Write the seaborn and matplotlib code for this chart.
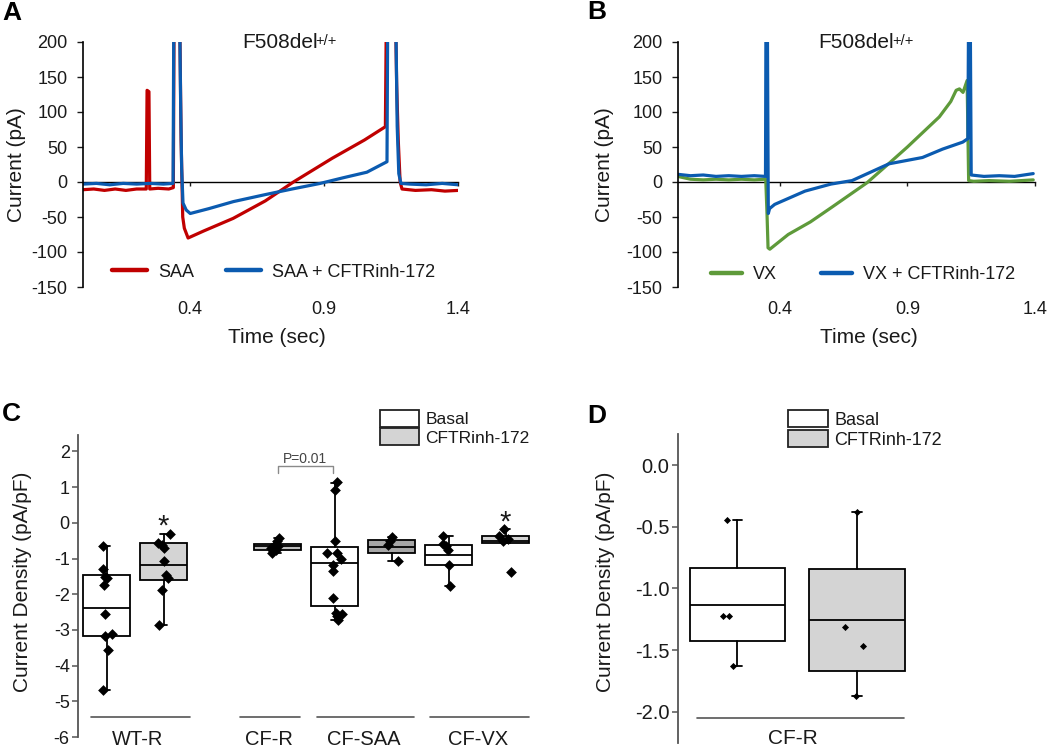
import matplotlib
matplotlib.use("Agg")
import matplotlib.pyplot as plt
import seaborn as sns
from matplotlib.lines import Line2D
from matplotlib.patches import Patch

# ---------------- DATA ----------------
# Panel A (F508del+/+, SAA)
saa_t = [0.00, 0.04, 0.08, 0.12, 0.16, 0.20, 0.236, 0.239, 0.246, 0.249, 0.28, 0.32, 0.337,
         0.340, 0.360, 0.366, 0.372, 0.378, 0.392, 0.45, 0.56, 0.68, 0.785, 0.93, 1.05, 1.128,
         1.132, 1.165, 1.170, 1.176, 1.183, 1.19, 1.24, 1.30, 1.35, 1.40]
saa_i = [-11, -10, -12, -10, -12, -10, -10, 131, 129, -10, -9, -10, -8,
         260, 260, 60, -50, -66, -80, -70, -52, -27, 0, 34, 60, 79,
         260, 260, 140, 60, 0, -10, -12, -11, -13, -12]
saa_inh_t = [0.00, 0.05, 0.10, 0.15, 0.20, 0.25, 0.30, 0.336, 0.339, 0.360, 0.364, 0.368, 0.373,
             0.385, 0.40, 0.47, 0.561, 0.68, 0.78, 0.885, 0.97, 1.059, 1.134, 1.137, 1.166,
             1.172, 1.178, 1.186, 1.22, 1.28, 1.34, 1.40]
saa_inh_i = [-3, -2, -4, -2, -3, -2, -3, -2, 260, 260, 120, 20, -30,
             -40, -45, -38, -28, -18, -10, -2, 6, 14, 29, 260, 260,
             80, 12, -2, -3, -4, -2, -4]

# Panel B (F508del+/+, VX)
vx_t = [0.00, 0.05, 0.10, 0.15, 0.20, 0.25, 0.30, 0.345, 0.350, 0.354, 0.361, 0.433, 0.52, 0.604,
        0.742, 0.82, 0.90, 1.025, 1.07, 1.091, 1.104, 1.118, 1.134, 1.140, 1.16, 1.22, 1.30, 1.393]
vx_i = [8, 4, 3, 4, 3, 4, 3, 4, -46, -94, -96, -75, -57, -36,
        -1, 24, 50, 93, 115, 131, 133, 128, 145, 2, 1, 2, 1, 3]
vx_inh_t = [0.00, 0.05, 0.10, 0.15, 0.20, 0.25, 0.30, 0.344, 0.346, 0.351, 0.355, 0.36, 0.38, 0.499,
            0.60, 0.683, 0.828, 0.959, 1.038, 1.117, 1.137, 1.140, 1.146, 1.150, 1.20, 1.26, 1.32, 1.393]
vx_inh_i = [11, 9, 10, 8, 9, 8, 9, 8, 260, 260, -45, -38, -32, -13,
            -3, 2, 26, 35, 47, 57, 62, 260, 260, 10, 8, 9, 8, 12]

time_ticks = [0.4, 0.9, 1.4]
time_tick_labels = ["0.4", "0.9", "1.4"]
current_ticks = [-150, -100, -50, 0, 50, 100, 150, 200]

# Panel C (current density, pA/pF)
c_groups = ["WT-R", "CF-R", "CF-SAA", "CF-VX"]
wt_basal = [-0.66, -1.30, -1.51, -1.54, -1.75, -2.55, -3.16, -3.12, -3.57, -4.68]
wt_inh = [-0.30, -0.56, -0.62, -0.70, -1.08, -1.46, -1.55, -1.88, -2.85]
cf_r = [-0.43, -0.52, -0.61, -0.66, -0.70, -0.75, -0.80, -0.84]
saa_basal = [1.13, 0.92, -0.52, -0.85, -0.85, -1.01, -1.18, -1.36, -2.11, -2.53, -2.55, -2.62, -2.72]
saa_inh = [-0.41, -0.52, -0.61, -1.08]
vx_basal = [-0.38, -0.59, -0.66, -0.76, -1.18, -1.77]
vx_inh = [-0.18, -0.38, -0.45, -0.52, -1.37]

# box statistics: (whisker low, Q1, median, Q3, whisker high)
wt_basal_box = (-4.68, -3.17, -2.38, -1.46, -0.66)
wt_inh_box = (-2.86, -1.60, -1.18, -0.57, -0.31)
cf_r_box = (-0.84, -0.76, -0.66, -0.59, -0.43)
saa_basal_box = (-2.72, -2.32, -1.13, -0.68, 1.12)
saa_inh_box = (-1.08, -0.85, -0.68, -0.48, -0.41)
vx_basal_box = (-1.77, -1.17, -0.89, -0.61, -0.38)
vx_inh_box = (-0.57, -0.57, -0.50, -0.38, -0.18)
c_yticks = [-6, -5, -4, -3, -2, -1, 0, 1, 2]

# Panel D (CF-R)
d_group = "CF-R"
d_basal = [-0.446, -1.224, -1.224, -1.63]
d_inh = [-0.378, -1.31, -1.47, -1.87]
d_basal_box = (-1.63, -1.427, -1.135, -0.838, -0.446)
d_inh_box = (-1.87, -1.668, -1.257, -0.846, -0.378)
d_yticks = [0.0, -0.5, -1.0, -1.5, -2.0]

legend_labels = ["Basal", "CFTRinh-172"]

# ---------------- STYLE / LAYOUT ----------------
sns.set_theme(style="ticks")
plt.rcParams['font.family'] = ['Liberation Sans', 'DejaVu Sans']
plt.rcParams['axes.unicode_minus'] = False

RED = "#C00000"
BLUE = "#0B5BB0"
GREEN = "#5E9A3A"
TXT = "#1a1a1a"

W, H = 1052, 747
fig = plt.figure(figsize=(W / 100, H / 100), dpi=100)


def add_ax(l, t, r, b):
    return fig.add_axes([l / W, 1 - b / H, (r - l) / W, (b - t) / H])


def trace_panel(ax, series, colors, labels, title_x, leg_xy, hl, cs, ylab_x, xlab_x):
    for (t, i), c in zip(series, colors):
        sns.lineplot(x=t, y=i, sort=False, estimator=None, color=c, lw=2.3, ax=ax)
    ax.set_xlim(0, 1.4)
    ax.set_ylim(-150, 200)
    ax.set_yticks(current_ticks)
    ax.set_yticklabels([str(v) for v in current_ticks])
    ax.set_xticks(time_ticks)
    ax.set_xticklabels(time_tick_labels)
    for s in ["top", "right"]:
        ax.spines[s].set_visible(False)
    ax.spines["bottom"].set_position(("data", 0))
    ax.spines["bottom"].set_color("black")
    ax.spines["bottom"].set_linewidth(1.0)
    ax.spines["bottom"].set_zorder(0.5)
    ax.spines["left"].set_color("black")
    ax.spines["left"].set_linewidth(1.2)
    ax.tick_params(axis="x", direction="out", length=3, width=1, pad=83,
                   labelsize=13, colors=TXT)
    ax.tick_params(axis="y", direction="out", length=4, width=1, pad=7,
                   labelsize=13, colors=TXT)
    ax.set_ylabel("Current (pA)", fontsize=15, color=TXT, va="center", ha="center")
    ax.yaxis.set_label_coords(ylab_x, 0.5)
    ax.set_xlabel("Time (sec)", fontsize=15, color=TXT, va="center", ha="center")
    ax.xaxis.set_label_coords(xlab_x, -0.208)
    main = ax.text(title_x, 199, "F508del", ha="left", va="center", fontsize=15, color=TXT)
    ax.annotate("+/+", xy=(1, 1), xycoords=main, xytext=(-1.5, -0.5),
                textcoords="offset points", ha="left", va="top", fontsize=10.5, color=TXT)
    handles = [Line2D([0], [0], color=c, lw=3.2) for c in colors]
    ax.legend(handles, labels, ncol=2, frameon=False, loc="center left",
              bbox_to_anchor=leg_xy, borderaxespad=0, borderpad=0,
              handlelength=hl, handletextpad=0.6, columnspacing=cs, fontsize=13,
              labelcolor=TXT)


# Panel A
axA = add_ax(83, 42, 458.3, 287)
trace_panel(axA, [(saa_t, saa_i), (saa_inh_t, saa_inh_i)], [RED, BLUE],
            ["SAA", "SAA + CFTRinh-172"], 0.593, (0.077, 0.061), 1.94, 1.8,
            -0.1785, 0.516)

# Panel B
axB = add_ax(677.7, 42, 1035, 287)
trace_panel(axB, [(vx_t, vx_i), (vx_inh_t, vx_inh_i)], [GREEN, BLUE],
            ["VX", "VX + CFTRinh-172"], 0.552, (0.093, 0.049), 1.72, 2.45,
            -0.206, 0.535)


def box_panel(ax, boxes, positions, fills, width, capw):
    stats = [dict(whislo=b[0], q1=b[1], med=b[2], q3=b[3], whishi=b[4], fliers=[])
             for b in boxes]
    res = ax.bxp(stats, positions=positions, widths=width, patch_artist=True,
                 showfliers=False, manage_ticks=False, capwidths=capw,
                 boxprops=dict(edgecolor="black", linewidth=1.3),
                 medianprops=dict(color="black", linewidth=1.3),
                 whiskerprops=dict(color="black", linewidth=1.3),
                 capprops=dict(color="black", linewidth=1.3))
    for patch, f in zip(res["boxes"], fills):
        patch.set_facecolor(f)
        patch.set_zorder(2)


def points(ax, pos, vals, offs, size):
    sns.scatterplot(x=[pos + o for o in offs], y=vals, marker="D", color="black",
                    s=size, linewidth=0, zorder=4, ax=ax, legend=False)


def axis_style(ax, yticks, fmt, labelsize):
    for s in ["top", "right", "bottom"]:
        ax.spines[s].set_visible(False)
    ax.spines["left"].set_color("#555555")
    ax.spines["left"].set_linewidth(1.3)
    ax.set_yticks(yticks)
    ax.set_yticklabels([fmt.format(v) for v in yticks])
    ax.set_xticks([])
    ax.tick_params(axis="y", direction="out", length=4.5, width=1.1, color="#555555",
                   pad=1.5, labelsize=labelsize, labelcolor=TXT)


# Panel C
axC = add_ax(78, 435, 540, 737)
c_boxes = [wt_basal_box, wt_inh_box, cf_r_box, saa_basal_box, saa_inh_box, vx_basal_box, vx_inh_box]
c_vals = [wt_basal, wt_inh, cf_r, saa_basal, saa_inh, vx_basal, vx_inh]
c_pos = [0, 1, 3, 4, 5, 6, 7]
c_fill = ["white", "#D4D4D4", "#BDBDBD", "white", "#A6A6A6", "white", "#D4D4D4"]
c_offs = [
    [-0.07, -0.06, -0.03, 0.01, -0.04, -0.03, -0.03, 0.09, 0.02, -0.07],
    [0.11, -0.09, -0.03, 0.01, 0.01, 0.04, 0.08, -0.02, -0.08],
    [0.03, -0.01, -0.05, 0.01, -0.12, -0.03, -0.08, -0.09],
    [0.04, 0.01, 0.0, -0.14, 0.04, 0.11, -0.03, -0.02, -0.03, 0.02, 0.13, 0.04, 0.07],
    [0.0, -0.03, -0.06, 0.12],
    [-0.09, -0.10, -0.04, -0.01, 0.0, 0.02],
    [-0.02, -0.12, 0.05, -0.05, 0.09],
]
box_panel(axC, c_boxes, c_pos, c_fill, 0.81, 0.14)
for p, v, o in zip(c_pos, c_vals, c_offs):
    points(axC, p, v, o, 30)
axC.set_xlim(-0.5, 7.605)
axC.set_ylim(-6, 2.46)
axis_style(axC, c_yticks, "{:d}", 13)
axC.set_ylabel("Current Density (pA/pF)", fontsize=15, color=TXT, va="center", ha="center")
axC.yaxis.set_label_coords(-0.121, 0.513)
c_lines = [(-0.27, 1.47), (2.34, 3.40), (3.69, 5.40), (5.67, 7.41)]
c_label_x = [0.55, 2.85, 4.52, 6.52]
for (x0, x1), lx, g in zip(c_lines, c_label_x, c_groups):
    axC.plot([x0, x1], [-5.43, -5.43], color="#555555", lw=1.2, clip_on=False)
    axC.text(lx, -6.07, g, ha="center", va="center", fontsize=14.5, color=TXT, clip_on=False)
# P-value bracket
axC.plot([3.01, 3.01, 3.98, 3.98], [1.39, 1.58, 1.58, 1.39], color="#8a8a8a", lw=1.0, clip_on=False)
axC.text(3.48, 1.78, "P=0.01", ha="center", va="center", fontsize=10, color="#444444")
axC.text(1.0, -0.34, "*", ha="center", va="baseline", fontsize=21, color=TXT)
axC.text(7.0, -0.21, "*", ha="center", va="baseline", fontsize=21, color=TXT)
leg_handles = [Patch(facecolor="white", edgecolor="#222222", linewidth=1.3),
               Patch(facecolor="#D4D4D4", edgecolor="#222222", linewidth=1.3)]
axC.legend(leg_handles, legend_labels, loc="upper left", bbox_to_anchor=(380 / W, 1 - 410 / H),
           bbox_transform=fig.transFigure, frameon=False, borderpad=0, borderaxespad=0,
           handlelength=2.25, handleheight=1.1, handletextpad=0.35, labelspacing=0.07,
           fontsize=12.5, labelcolor=TXT)

# Panel D
axD = add_ax(677.7, 434.3, 952.5, 742.5)
box_panel(axD, [d_basal_box, d_inh_box], [0, 1], ["white", "#D4D4D4"], 0.8, 0.08)
points(axD, 0, d_basal, [-0.09, -0.124, -0.069, -0.035], 13)
points(axD, 1, d_inh, [0.0, -0.10, 0.05, -0.01], 13)
axD.set_xlim(-0.5, 1.8)
axD.set_ylim(-2.25, 0.25)
axis_style(axD, d_yticks, "{:.1f}", 14.5)
axD.set_ylabel("Current Density (pA/pF)", fontsize=15, color=TXT, va="center", ha="center")
axD.yaxis.set_label_coords(-0.261, 0.52)
axD.plot([-0.34, 1.39], [-2.05, -2.05], color="#555555", lw=1.2, clip_on=False)
axD.text(0.46, -2.22, d_group, ha="center", va="center", fontsize=15, color=TXT, clip_on=False)
axD.legend(leg_handles, legend_labels, loc="upper left", bbox_to_anchor=(788 / W, 1 - 410 / H),
           bbox_transform=fig.transFigure, frameon=False, borderpad=0, borderaxespad=0,
           handlelength=2.2, handleheight=1.1, handletextpad=0.35, labelspacing=0.07,
           fontsize=13, labelcolor=TXT)

# Panel letters
for lx, ly, s in [(2, 1, "A"), (587, 0, "B"), (2, 402, "C"), (587, 404, "D")]:
    fig.text(lx / W, 1 - ly / H, s, ha="left", va="top", fontsize=19, fontweight="bold",
             color="black")

fig.savefig("out.png", dpi=100)
